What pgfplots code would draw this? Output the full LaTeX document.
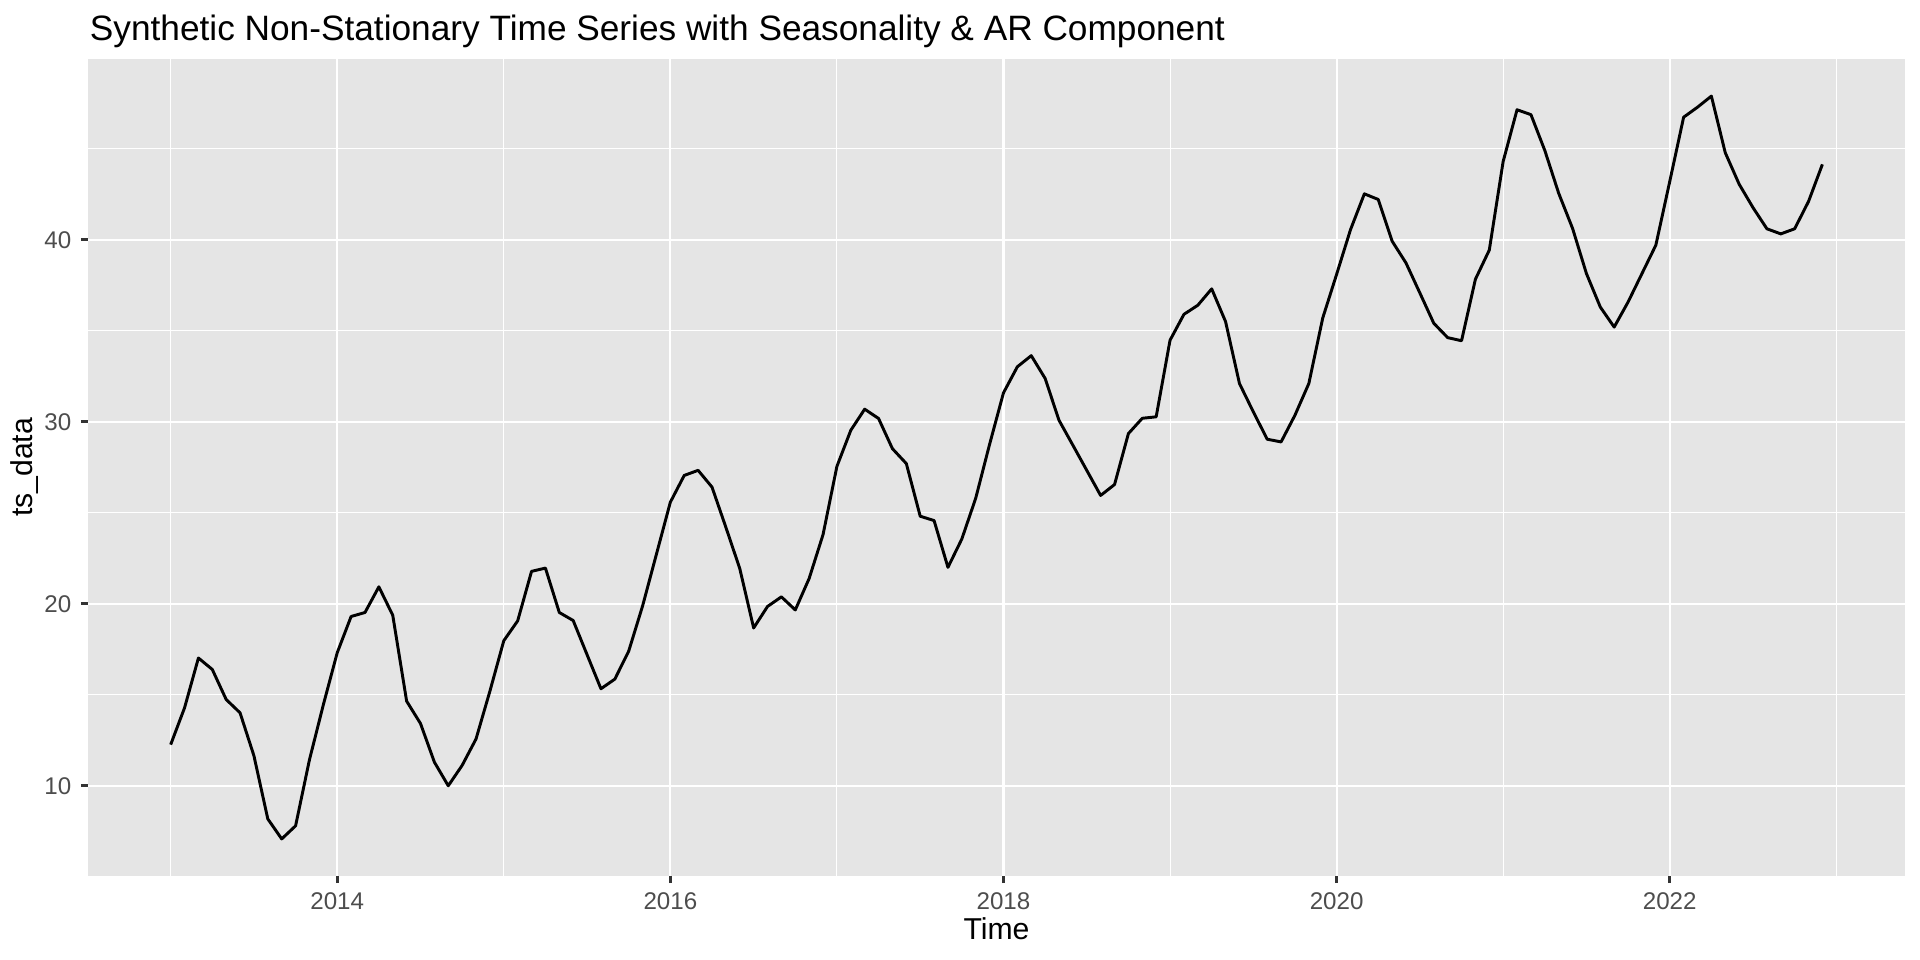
\documentclass[border=0pt]{standalone}
\usepackage{pgfplots}
\pgfplotsset{compat=1.18}
\usepackage{pgfplotstable}
\usepackage{fontspec}
\setmainfont{Liberation Sans}
\definecolor{panelbg}{HTML}{E5E5E5}
\definecolor{tickgrey}{HTML}{333333}
\definecolor{labgrey}{HTML}{4D4D4D}
\pgfplotstableread{
t v
0 12.26
1 14.28
2 17.02
3 16.39
4 14.74
5 14.01
6 11.65
7 8.18
8 7.08
9 7.80
10 11.43
11 14.45
12 17.31
13 19.30
14 19.52
15 20.93
16 19.37
17 14.65
18 13.42
19 11.30
20 10.00
21 11.12
22 12.57
23 15.20
24 17.97
25 19.06
26 21.78
27 21.96
28 19.52
29 19.08
30 17.20
31 15.33
32 15.86
33 17.40
34 19.88
35 22.73
36 25.58
37 27.05
38 27.33
39 26.41
40 24.20
41 21.94
42 18.67
43 19.85
44 20.38
45 19.66
46 21.39
47 23.80
48 27.55
49 29.53
50 30.69
51 30.18
52 28.52
53 27.70
54 24.81
55 24.57
56 22.00
57 23.56
58 25.80
59 28.76
60 31.59
61 33.02
62 33.63
63 32.38
64 30.08
65 28.71
66 27.33
67 25.95
68 26.55
69 29.35
70 30.19
71 30.27
72 34.48
73 35.90
74 36.40
75 37.30
76 35.50
77 32.10
78 30.54
79 29.04
80 28.89
81 30.36
82 32.10
83 35.70
84 38.10
85 40.55
86 42.52
87 42.21
88 39.92
89 38.72
90 37.07
91 35.41
92 34.62
93 34.45
94 37.83
95 39.43
96 44.30
97 47.14
98 46.87
99 44.90
100 42.55
101 40.62
102 38.14
103 36.30
104 35.20
105 36.58
106 38.14
107 39.70
108 43.20
109 46.73
110 47.28
111 47.89
112 44.78
113 43.05
114 41.76
115 40.60
116 40.32
117 40.60
118 42.10
119 44.14
}\tsdata
\begin{document}
\begin{tikzpicture}
\useasboundingbox (0,0) rectangle (700pt,350pt);
\begin{axis}[
  at={(32.1pt,30.6pt)}, anchor=south west,
  width=662.4pt, height=297.9pt, scale only axis,
  xmin=2012.504, xmax=2023.412, ymin=5.04, ymax=49.93,
  xtick={2014,2016,2018,2020,2022},
  minor xtick={2013,2015,2017,2019,2021,2023},
  ytick={10,20,30,40}, minor ytick={15,25,35,45},
  grid=both,
  major grid style={white, line width=0.8pt},
  minor grid style={white, line width=0.4pt},
  axis line style={draw=none},
  axis background/.style={fill=panelbg},
  tick align=outside,
  major tick length=2.6pt, minor tick length=0pt,
  tick style={tickgrey, line width=1pt},
  xtick pos=bottom, ytick pos=left,
  /pgf/number format/assume math mode=true,
  /pgf/number format/1000 sep={},
  scaled ticks=false,
  xticklabel style={font=\fontsize{8.8}{10}\selectfont, text=labgrey},
  yticklabel style={font=\fontsize{8.8}{10}\selectfont, text=labgrey},
]
\addplot[black, line width=1.07pt, line join=round, mark=none] table[x expr=2013+\thisrow{t}/12, y=v] {\tsdata};
\end{axis}
\node[anchor=base west, inner sep=0pt, font=\fontsize{12.85}{15}\selectfont] at (32.6pt,335.4pt) {Synthetic Non-Stationary Time Series with Seasonality \& AR Component};
\node[anchor=base, inner sep=0pt, font=\fontsize{11}{13}\selectfont] at (363.3pt,7.3pt) {Time};
\node[anchor=base, rotate=90, inner sep=0pt, font=\fontsize{11}{13}\selectfont] at (12pt,179.55pt) {ts\_data};
\end{tikzpicture}
\end{document}
